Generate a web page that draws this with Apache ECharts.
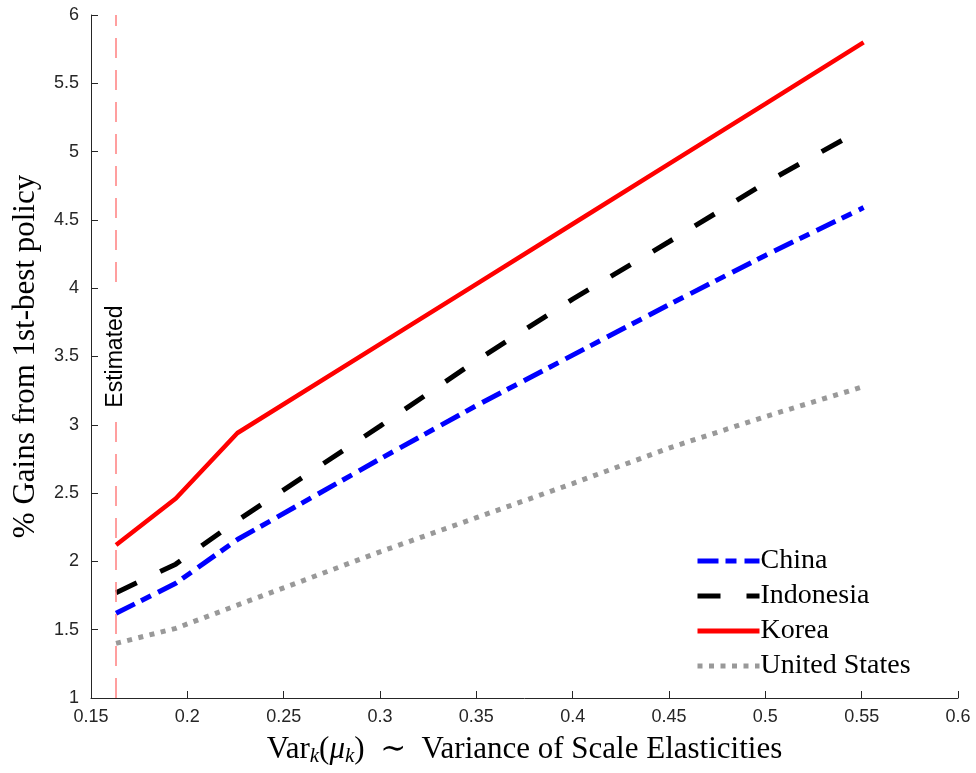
<!DOCTYPE html>
<html>
<head>
<meta charset="utf-8">
<script src="https://cdn.jsdelivr.net/npm/echarts@6/dist/echarts.min.js"></script>
<style>
html,body{margin:0;padding:0;background:#fff;}
#chart{width:976px;height:773px;}
</style>
</head>
<body>
<div id="chart"></div>
<script>
// ---- data ----
const xVals = [0.163, 0.194, 0.226, 0.3, 0.35, 0.4, 0.45, 0.5, 0.551];
const china = [1.62, 1.84, 2.16, 2.75, 3.14, 3.51, 3.88, 4.24, 4.59];
const indonesia = [1.77, 1.98, 2.30, 2.99, 3.47, 3.92, 4.34, 4.77, 5.17];
const korea = [2.12, 2.46, 2.94, 3.59, 4.03, 4.47, 4.91, 5.35, 5.80];
const unitedStates = [1.40, 1.51, 1.68, 2.07, 2.32, 2.57, 2.83, 3.06, 3.28];
const seriesNames = ['China', 'Indonesia', 'Korea', 'United States'];
const estimatedX = 0.163;
const estimatedLabel = 'Estimated';
const xTitle = 'Variance of Scale Elasticities';
const yTitle = '% Gains from 1st-best policy';

function pairs(ys) { return xVals.map((x, i) => [x, ys[i]]); }

const chart = echarts.init(document.getElementById('chart'));
const axisColor = '#262626';
const serif = '"Liberation Serif", "DejaVu Serif", serif';
const sans = '"Liberation Sans", Arial, sans-serif';

const option = {
  animation: false,
  backgroundColor: '#fff',
  grid: { left: 91, right: 18, top: 15, bottom: 75, containLabel: false },
  legend: {
    data: seriesNames,
    orient: 'vertical',
    left: 690,
    top: 542,
    itemWidth: 62,
    itemHeight: 14,
    itemGap: 7,
    itemStyle: { opacity: 0 },
    lineStyle: { width: 5 },
    textStyle: { fontFamily: serif, fontSize: 28, color: '#000', padding: [0, 0, 0, -4] }
  },
  xAxis: {
    type: 'value', min: 0.15, max: 0.6, interval: 0.05,
    name: '{r|Var}{s|k}{r|(}{m|μ}{s|k}{r|)  ∼  ' + xTitle + '}',
    nameLocation: 'middle', nameGap: 35,
    nameTextStyle: {
      rich: {
        r: { fontFamily: serif, fontSize: 31, color: '#000', lineHeight: 34 },
        m: { fontFamily: serif, fontSize: 31, fontStyle: 'italic', color: '#000', lineHeight: 34 },
        s: { fontFamily: serif, fontSize: 21, fontStyle: 'italic', color: '#000', lineHeight: 34, verticalAlign: 'bottom', padding: [12, 0, 0, 0] }
      }
    },
    axisLine: { lineStyle: { color: axisColor, width: 1 } },
    axisTick: { inside: true, length: 7, lineStyle: { color: axisColor } },
    axisLabel: { fontFamily: sans, fontSize: 18, color: axisColor, margin: 10 },
    splitLine: { show: false }
  },
  yAxis: {
    type: 'value', min: 1, max: 6, interval: 0.5,
    name: yTitle,
    nameLocation: 'middle', nameGap: 39, nameRotate: 90,
    nameTextStyle: { fontFamily: serif, fontSize: 31, color: '#000', lineHeight: 34 },
    axisLine: { show: true, lineStyle: { color: axisColor, width: 1 } },
    axisTick: { show: true, inside: true, length: 7, lineStyle: { color: axisColor } },
    axisLabel: { fontFamily: sans, fontSize: 18, color: axisColor, margin: 12 },
    splitLine: { show: false }
  },
  series: [
    {
      name: seriesNames[0], type: 'line', data: pairs(china), symbol: 'none', z: 3,
      lineStyle: { color: '#0000ff', width: 5, type: [21, 7, 11, 8], cap: 'butt' },
      itemStyle: { color: '#0000ff' },
      markLine: {
        silent: true, symbol: 'none', precision: 4,
        lineStyle: { color: '#ff8080', width: 1.5, type: [20, 12] },
        label: {
          show: true, formatter: estimatedLabel, position: 'middle', distance: -13,
          fontFamily: sans, fontSize: 23, color: '#000', backgroundColor: '#fff', padding: [2, 14]
        },
        data: [{ xAxis: estimatedX }]
      }
    },
    {
      name: seriesNames[1], type: 'line', data: pairs(indonesia), symbol: 'none', z: 3,
      lineStyle: { color: '#000000', width: 5, type: [23, 26], cap: 'butt' },
      itemStyle: { color: '#000000' }
    },
    {
      name: seriesNames[2], type: 'line', data: pairs(korea), symbol: 'none', z: 3,
      lineStyle: { color: '#ff0000', width: 4.5, type: 'solid' },
      itemStyle: { color: '#ff0000' }
    },
    {
      name: seriesNames[3], type: 'line', data: pairs(unitedStates), symbol: 'none', z: 3,
      lineStyle: { color: '#999999', width: 5, type: [5, 6.5], cap: 'butt' },
      itemStyle: { color: '#999999' }
    }
  ]
};
chart.setOption(option);
</script>
</body>
</html>
